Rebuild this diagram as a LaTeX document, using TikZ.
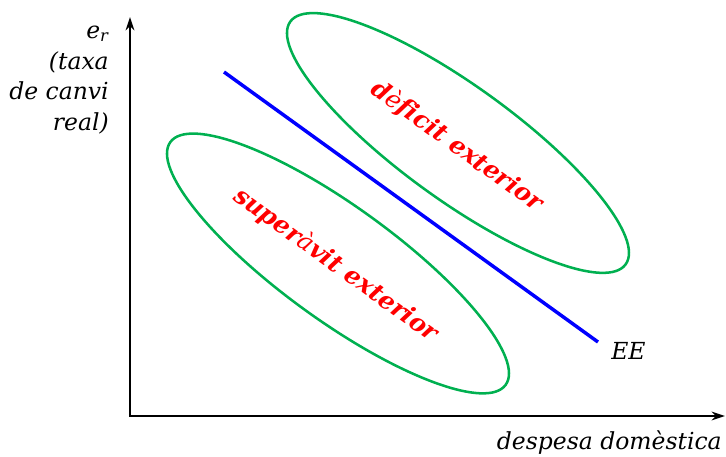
\documentclass[tikz,border=0pt]{standalone}
\usepackage{fontspec}
\setmainfont[Ligatures=NoCommon]{DejaVu Serif}
\usetikzlibrary{arrows.meta}
\definecolor{egreen}{RGB}{0,176,80}
\begin{document}
\begin{tikzpicture}[x=0.75pt,y=-0.75pt,
  axis/.style={line width=1.5pt, line join=miter, {Stealth[length=10pt,width=6.5pt]}-{Stealth[length=10pt,width=6.5pt]}},
  region/.style={draw=egreen, line width=1.9pt},
  eeline/.style={draw=blue, line width=2.6pt},
  lbl/.style={font=\itshape\fontsize{17.6}{23}\selectfont, inner sep=0pt},
  redlbl/.style={text=red, font=\bfseries\itshape\fontsize{18.5}{22}\selectfont, rotate=-35.7, inner sep=0pt}]
\useasboundingbox (0,0) rectangle (726,457);
\coordinate (O) at (130,416);
\coordinate (ytop) at (130,17);
\coordinate (xend) at (725,416);
\draw[axis] (ytop) -- (O) -- (xend);
\coordinate (c1) at (458,143);
\coordinate (c2) at (338,263.5);
\draw[region, rotate around={-35.9:(c1)}] (c1) ellipse [x radius=207, y radius=57];
\draw[region, rotate around={-35.9:(c2)}] (c2) ellipse [x radius=207, y radius=57];
\coordinate (ee1) at (224,72);
\coordinate (ee2) at (598,342);
\draw[eeline] (ee1) -- (ee2);
\node[lbl, anchor=west] (ee) at (611,351) {EE};
\node[lbl, align=right, anchor=east] (ylab) at (109,80) {e\textsubscript{r}\\(taxa\\de canvi\\real)};
\node[lbl, anchor=east] (xlab) at (722,443) {despesa domèstica};
\node[redlbl] (def) at (457,146) {d{\mdseries è}ficit exterior};
\node[redlbl] (sup) at (336,265) {super{\mdseries à}vit exterior};
\end{tikzpicture}
\end{document}
